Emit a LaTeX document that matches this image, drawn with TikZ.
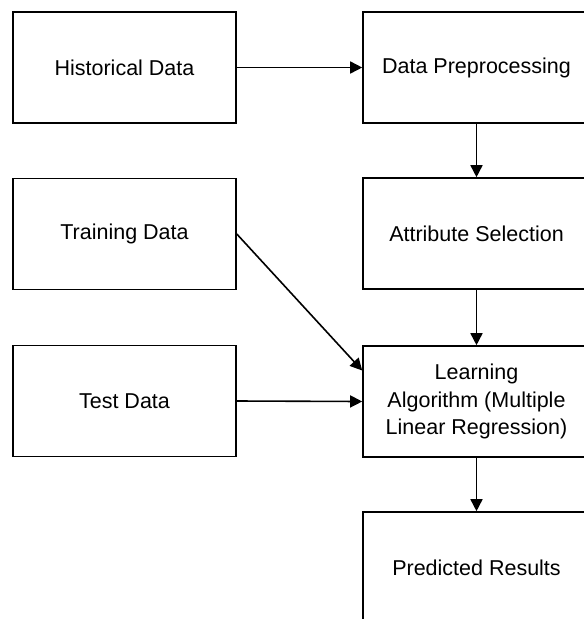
\documentclass[tikz,border=0pt]{standalone}
\usepackage{fontspec}
\setmainfont{Liberation Sans}
\usetikzlibrary{arrows.meta}
\begin{document}
\begin{tikzpicture}[x=1pt,y=1pt,
  boxnode/.style={draw=black, line width=1.6pt, fill=white, minimum width=223pt, minimum height=111pt, inner sep=0pt, align=center, font=\fontsize{21.5}{27.5}\selectfont},
  rbox/.style={boxnode, minimum width=227pt},
  conn/.style={draw=black, line width=1.6pt, -{Triangle[length=12pt,width=12pt]}}]
\useasboundingbox (0,0) rectangle (584,-619);
\fill[white] (0,0) rectangle (584,-619);
\node[boxnode] (hist) at (124.5,-67.5) {Historical Data};
\node[boxnode] (train) at (124.5,-234) {Training Data};
\node[boxnode] (test) at (124.5,-401) {Test Data};
\node[rbox] (prep) at (476.5,-67.5) {Data Preprocessing};
\node[rbox] (attr) at (476.5,-233.5) {Attribute Selection};
\node[rbox] (learn) at (476.5,-401.5) {Learning\\Algorithm (Multiple\\Linear Regression)};
\node[rbox] (pred) at (476.5,-567.5) {Predicted Results};
\draw[conn] (hist.east) -- (prep.west);
\draw[conn] (prep.south) -- (attr.north);
\draw[conn] (attr.south) -- (learn.north);
\draw[conn] (learn.south) -- (pred.north);
\draw[conn] (train.east) -- ([yshift=31pt]learn.west);
\draw[conn] (test.east) -- (learn.west);
\end{tikzpicture}
\end{document}
